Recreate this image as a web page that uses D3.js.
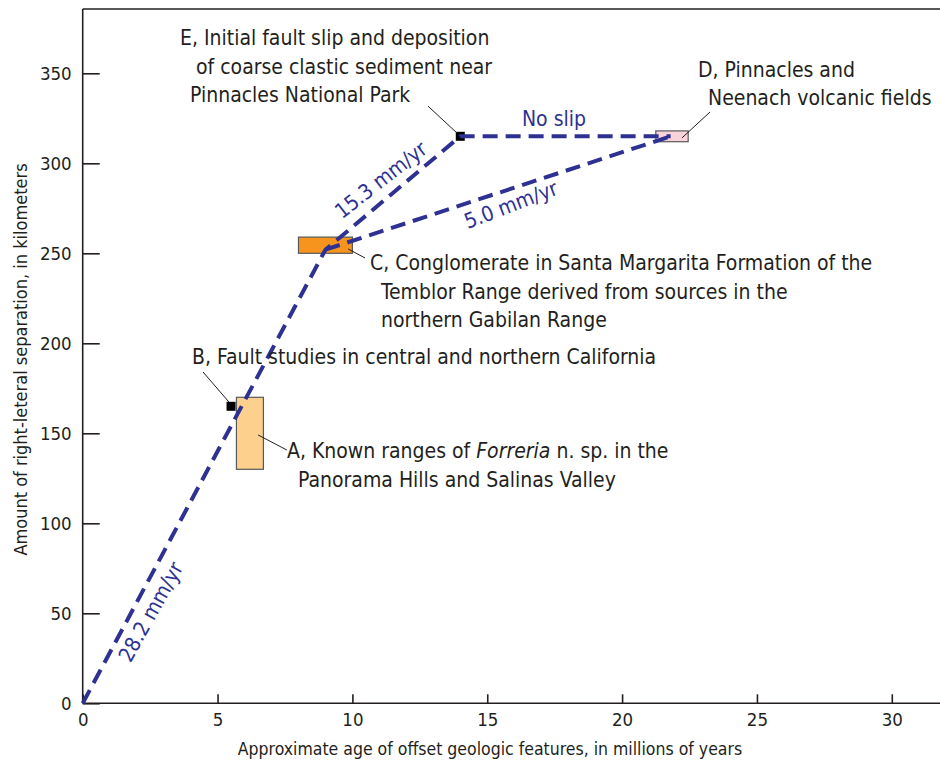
<!DOCTYPE html>
<html><head><meta charset="utf-8">
<script src="https://cdn.jsdelivr.net/npm/d3@7"></script>
<style>
body{margin:0;background:#fff;}
svg text{font-family:"Liberation Sans Narrow","DejaVu Sans Condensed","Roboto Condensed","Arial Narrow",sans-serif;fill:#231f20;}
</style></head><body><svg id="c" width="940" height="762"></svg>
<script>
// ---- data ----
const xTicks=[0,5,10,15,20,25,30];
const yTicks=[0,50,100,150,200,250,300,350];
const xTitle="Approximate age of offset geologic features, in millions of years";
const yTitle="Amount of right-leteral separation, in kilometers";
const boxIds=["A","C","D"];
const boxAgeMin=[5.7,8.0,21.25];
const boxAgeMax=[6.7,10.0,22.45];
const boxKmMin=[130,250,312];
const boxKmMax=[170,259,318];
const pointIds=["B","E"];
const pointAge=[5.5,14];
const pointKm=[165,315];
const pathMainAge=[0,9,14,21.8];
const pathMainKm=[0,252,315,315];
const pathDAge=[9,21.8];
const pathDKm=[252,315];
const rateLabels=["28.2 mm/yr","15.3 mm/yr","No slip","5.0 mm/yr"];
const noteA=["A, Known ranges of ","Forreria"," n. sp. in the","Panorama Hills and Salinas Valley"];
const noteB=["B, Fault studies in central and northern California"];
const noteC=["C, Conglomerate in Santa Margarita Formation of the","Temblor Range derived from sources in the","northern Gabilan Range"];
const noteD=["D, Pinnacles and","Neenach volcanic fields"];
const noteE=["E, Initial fault slip and deposition"," of coarse clastic sediment near","Pinnacles National Park"];
// leader endpoints in data units [age1,km1,age2,km2]
const leaders=[[12.80,331.8,13.88,316.8],[23.26,328.5,22.22,314.1],[9.84,252.4,10.47,247.4],[4.46,184.1,5.42,167.4],[6.50,149.1,7.57,140.7]];

// ---- layout ----
const W=940,H=762;
const X0=82.7,X1=940,Y0=703.3,Y1=9;
const xMax=(X1-X0)/26.97, yMax=(Y0-Y1)/1.8;
const blue="#2e3192", ink="#231f20";
const boxFill={A:"#fdd08e",C:"#f7941d",D:"#f9d3da"};
const noteSize=21;

const svg=d3.select("#c");
const x=d3.scaleLinear().domain([0,xMax]).range([X0,X1]);
const y=d3.scaleLinear().domain([0,yMax]).range([Y0,Y1]);

// boxes
svg.append("g").selectAll("rect").data(boxIds).join("rect")
  .attr("x",(d,i)=>x(boxAgeMin[i])).attr("width",(d,i)=>x(boxAgeMax[i])-x(boxAgeMin[i]))
  .attr("y",(d,i)=>y(boxKmMax[i])).attr("height",(d,i)=>y(boxKmMin[i])-y(boxKmMax[i]))
  .attr("fill",d=>boxFill[d]).attr("stroke","#58595b").attr("stroke-width",1.2);

// points
const ps=9;
svg.append("g").selectAll("rect").data(pointIds).join("rect")
  .attr("x",(d,i)=>x(pointAge[i])-ps/2).attr("y",(d,i)=>y(pointKm[i])-ps/2)
  .attr("width",ps).attr("height",ps).attr("fill","#000");

// leaders
svg.append("g").selectAll("line").data(leaders).join("line")
  .attr("x1",d=>x(d[0])).attr("y1",d=>y(d[1])).attr("x2",d=>x(d[2])).attr("y2",d=>y(d[3]))
  .attr("stroke",ink).attr("stroke-width",1);

// axes
const gx=svg.append("g").attr("transform",`translate(0,${Y0})`)
  .call(d3.axisBottom(x).tickValues(xTicks).tickSize(-9).tickPadding(0).tickFormat(d3.format("d")));
gx.select(".domain").attr("d",`M${X0},0H${X1}`);
gx.selectAll("text").attr("y",23).attr("font-size",18.5).attr("dy",0);
const gy=svg.append("g").attr("transform",`translate(${X0},0)`)
  .call(d3.axisLeft(y).tickValues(yTicks).tickSize(-17).tickPadding(0).tickFormat(d3.format("d")));
gy.select(".domain").attr("d",`M0,${Y0}V${Y1}`);
gy.selectAll("text").attr("x",-11).attr("font-size",18.5).attr("dy","0.35em");
svg.selectAll(".domain,.tick line").attr("stroke",ink).attr("stroke-width",1.6);
svg.selectAll(".tick text").attr("fill",ink).attr("font-family",null);
// top frame line
svg.append("line").attr("x1",X0).attr("x2",X1).attr("y1",Y1).attr("y2",Y1).attr("stroke",ink).attr("stroke-width",1.6);

// axis titles
svg.append("text").attr("x",490).attr("y",755).attr("text-anchor","middle").attr("font-size",17.5).text(xTitle);
svg.append("text").attr("transform","translate(26.5,359.5) rotate(-90)").attr("text-anchor","middle").attr("font-size",18).text(yTitle);

// slip paths
const line=d3.line().x(d=>x(d[0])).y(d=>y(d[1]));
const mainPts=pathMainAge.map((a,i)=>[a,pathMainKm[i]]);
const dPts=pathDAge.map((a,i)=>[a,pathDKm[i]]);
[mainPts,dPts].forEach(p=>{
  svg.append("path").attr("d",line(p)).attr("fill","none").attr("stroke",blue)
    .attr("stroke-width",4).attr("stroke-dasharray","15,8").attr("stroke-linejoin","round");
});

// rate labels
const rateLayout=[[151,612,-61],[381,180,-38],[554,119,0],[511,205,-21]];
svg.append("g").selectAll("text").data(rateLabels).join("text")
  .attr("transform",(d,i)=>`translate(${rateLayout[i][0]},${rateLayout[i][1]}) rotate(${rateLayout[i][2]})`)
  .attr("text-anchor","middle").attr("dominant-baseline","central")
  .attr("font-size",noteSize).style("fill",blue).text(d=>d);

// notes
function note(lines,pos){
  lines.forEach((t,i)=>{
    svg.append("text").attr("x",pos[i][0]).attr("y",pos[i][1]).attr("font-size",noteSize)
      .attr("xml:space","preserve").style("white-space","pre").text(t);
  });
}
note(noteE,[[180,45],[190,73.5],[190,102]]);
note(noteD,[[698,77],[708,105]]);
note(noteC,[[370,270],[381,298.5],[381,327]]);
note(noteB,[[192,364]]);
const ta=svg.append("text").attr("x",287).attr("y",458).attr("font-size",noteSize).style("white-space","pre");
ta.append("tspan").text(noteA[0]);
ta.append("tspan").attr("font-style","italic").text(noteA[1]);
ta.append("tspan").text(noteA[2]);
svg.append("text").attr("x",298).attr("y",487).attr("font-size",noteSize).text(noteA[3]);
</script></body></html>
